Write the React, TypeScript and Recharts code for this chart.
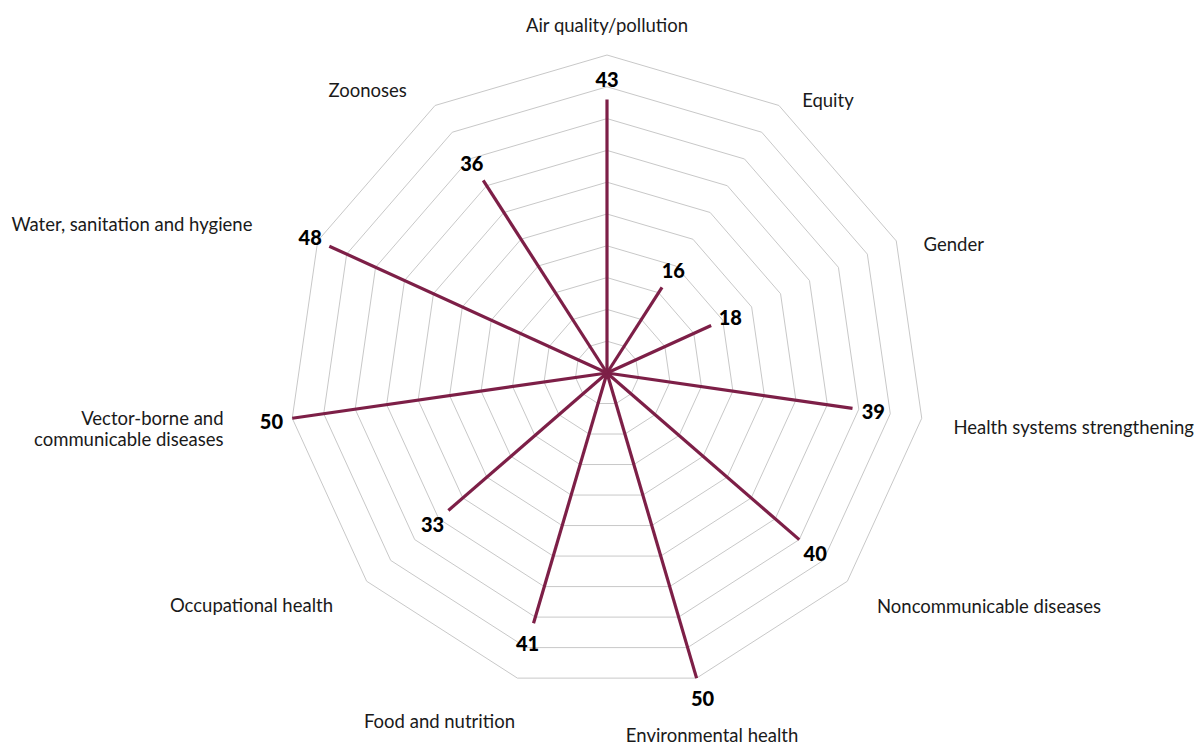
import { RadarChart, Radar, PolarGrid, PolarAngleAxis, PolarRadiusAxis } from 'recharts';

const categories = [
  'Air quality/pollution',
  'Equity',
  'Gender',
  'Health systems strengthening',
  'Noncommunicable diseases',
  'Environmental health',
  'Food and nutrition',
  'Occupational health',
  'Vector-borne and communicable diseases',
  'Water, sanitation and hygiene',
  'Zoonoses',
];

const counts = [43, 16, 18, 39, 40, 50, 41, 33, 50, 48, 36];

const radiusTicks = [0, 5, 10, 15, 20, 25, 30, 35, 40, 45, 50];

const data = categories.map((name, i) => ({ name, count: counts[i] }));

const FONT = 'Lato, "Open Sans", sans-serif';
const LINE = '#7D1F47';
const OUTER = 318;

// label nudges relative to the default spot just outside the outer ring
const labelNudge: Record<string, { dx: number; dy: number; anchor?: string; lines?: string[] }> = {
  'Air quality/pollution': { dx: 0, dy: 0, anchor: 'middle' },
  Equity: { dx: 7, dy: 20 },
  Gender: { dx: 0, dy: 16 },
  'Health systems strengthening': { dx: 2, dy: 4 },
  'Noncommunicable diseases': { dx: 7, dy: 5 },
  'Environmental health': { dx: 7, dy: 28, anchor: 'middle' },
  'Food and nutrition': { dx: 6, dy: 14, anchor: 'end' },
  'Occupational health': { dx: -11, dy: 4 },
  'Vector-borne and communicable diseases': {
    dx: -39,
    dy: 6,
    lines: ['Vector-borne and', 'communicable diseases'],
  },
  'Water, sanitation and hygiene': { dx: -38, dy: -4 },
  Zoonoses: { dx: -12, dy: 10 },
};

const AngleTick = (props: any) => {
  const { cx, cy, payload } = props;
  const name = payload.value as string;
  const rad = (-payload.coordinate * Math.PI) / 180;
  const r = OUTER + 30;
  const ux = Math.cos(rad);
  const uy = Math.sin(rad);
  const nudge = labelNudge[name] || { dx: 0, dy: 0 };
  let anchor = nudge.anchor || (ux > 0.1 ? 'start' : ux < -0.1 ? 'end' : 'middle');
  const x = cx + r * ux + nudge.dx;
  const y = cy + r * uy + nudge.dy;
  const lines = nudge.lines || [name];
  const lh = 21;
  const y0 = y - ((lines.length - 1) * lh) / 2;
  return (
    <text
      x={x}
      y={y0}
      textAnchor={anchor}
      dominantBaseline="central"
      fontFamily={FONT}
      fontSize={18.5}
      fill="#1a1a1a"
    >
      {lines.map((l, i) => (
        <tspan key={i} x={x} y={y0 + i * lh} dominantBaseline="central">
          {l}
        </tspan>
      ))}
    </text>
  );
};

const StarShape = (props: any) => {
  const points = props.points || [];
  return (
    <g>
      {points.map((p: any, i: number) => {
        const dx = p.x - p.cx;
        const dy = p.y - p.cy;
        const len = Math.sqrt(dx * dx + dy * dy) || 1;
        const lx = p.x + (dx / len) * 21;
        const ly = p.y + (dy / len) * 21;
        return (
          <g key={i}>
            <line x1={p.cx} y1={p.cy} x2={p.x} y2={p.y} stroke={LINE} strokeWidth={3.2} />
            <text
              x={lx}
              y={ly}
              textAnchor="middle"
              dominantBaseline="central"
              fontFamily={FONT}
              fontWeight={900}
              fontSize={20}
              fill="#000"
            >
              {p.value}
            </text>
          </g>
        );
      })}
    </g>
  );
};

export default function App() {
  return (
    <div style={{ width: 1194, height: 739, background: '#fff' }}>
      <style>{'body{overflow:hidden} .recharts-surface{overflow:visible}'}</style>
      <RadarChart
        width={1194}
        height={739}
        data={data}
        cx={599}
        cy={365}
        outerRadius={OUTER}
        startAngle={90}
        endAngle={-270}
        margin={{ top: 0, right: 0, bottom: 0, left: 0 }}
      >
        <PolarGrid gridType="polygon" radialLines={false} stroke="#c8c8c8" strokeWidth={1} />
        <PolarAngleAxis dataKey="name" tick={<AngleTick />} tickLine={false} axisLine={false} />
        <PolarRadiusAxis
          domain={[0, 50]}
          ticks={radiusTicks}
          tickCount={11}
          tick={false}
          axisLine={false}
        />
        <Radar
          dataKey="count"
          stroke={LINE}
          fill="none"
          shape={<StarShape />}
          dot={false}
          isAnimationActive={false}
        />
      </RadarChart>
    </div>
  );
}
